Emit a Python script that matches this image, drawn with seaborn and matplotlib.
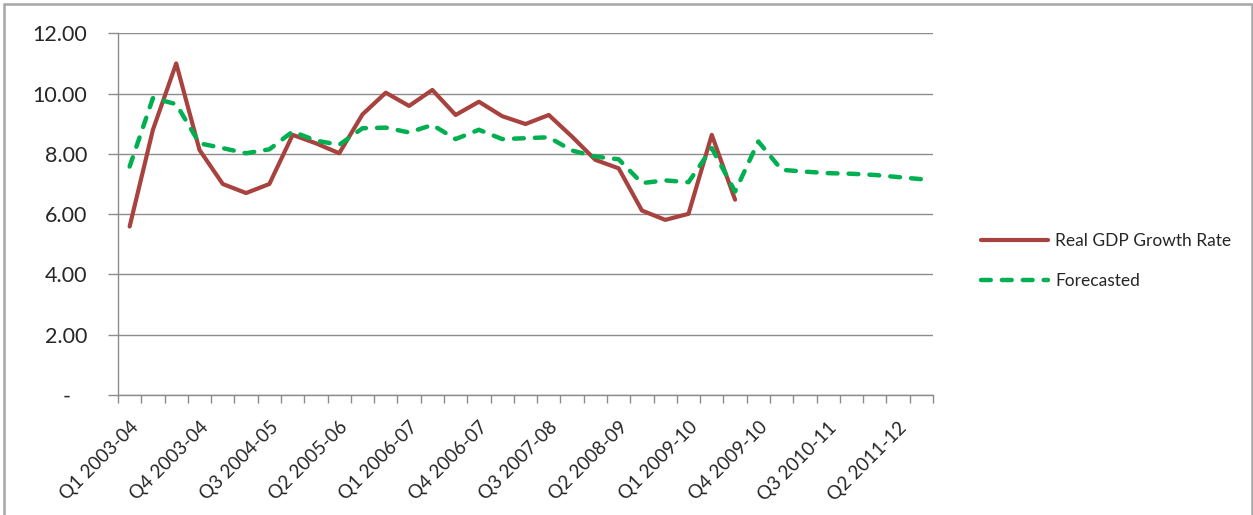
import numpy as np
import pandas as pd
import seaborn as sns
import matplotlib.pyplot as plt
from matplotlib.patches import Rectangle

# --- data ---
fiscal_years = ["2003-04", "2004-05", "2005-06", "2006-07", "2007-08",
                "2008-09", "2009-10", "2010-11", "2011-12"]
quarters = [f"Q{q} {fy}" for fy in fiscal_years for q in range(1, 5)][:35]

real_gdp = [5.59, 8.80, 11.00, 8.13, 7.00, 6.70, 7.00, 8.63, 8.35, 8.02,
            9.31, 10.03, 9.59, 10.12, 9.29, 9.73, 9.25, 8.99, 9.29, 8.57,
            7.80, 7.52, 6.12, 5.81, 6.01, 8.63, 6.48]

forecast = [7.58, 9.85, 9.65, 8.35, 8.19, 8.02, 8.15, 8.74, 8.44, 8.30,
            8.85, 8.87, 8.71, 8.96, 8.49, 8.80, 8.49, 8.52, 8.55, 8.11,
            7.91, 7.82, 7.03, 7.12, 7.06, 8.19, 6.75, 8.41, 7.47, 7.41,
            7.36, 7.34, 7.30, 7.23, 7.16]

df_real = pd.DataFrame({"pos": np.arange(len(real_gdp)), "value": real_gdp})
df_fc = pd.DataFrame({"pos": np.arange(len(forecast)), "value": forecast})

# --- style ---
sns.set_style("white")
plt.rcParams["font.family"] = ["Lato", "DejaVu Sans"]

fig = plt.figure(figsize=(12.53, 5.15), dpi=100)
ax = fig.add_axes([118 / 1253, 1 - 395 / 515, (933 - 118) / 1253, (395 - 33.3) / 515])

red = "#A8423F"
green = "#00B050"
grid_col = "#8C8C8C"

sns.lineplot(data=df_real, x="pos", y="value", ax=ax, color=red, linewidth=3.0,
             label="Real GDP Growth Rate")
sns.lineplot(data=df_fc, x="pos", y="value", ax=ax, color=green, linewidth=3.2,
             dashes=False, label="Forecasted")
fc_line = ax.get_lines()[1]
fc_line.set_dashes((2.2, 2.5))
fc_line.set_dash_capstyle("round")

ax.set_xlim(-0.5, len(quarters) - 0.5)
ax.set_ylim(0, 12)

# y axis
yt = [0, 2, 4, 6, 8, 10, 12]
ax.set_yticks(yt)
ax.set_yticklabels(["-   "] + [f"{v:.2f}" for v in yt[1:]], fontsize=15.5)
ax.yaxis.grid(True, color=grid_col, linewidth=1.0)
ax.tick_params(axis="y", length=7, width=1.0, color=grid_col, pad=15, direction="out", left=True)

# x axis: ticks between categories, labels every third quarter
ax.set_xticks(np.arange(-0.5, len(quarters), 1.0), minor=True)
ax.set_xticks(np.arange(0, len(quarters), 3))
ax.set_xticklabels([quarters[i] for i in range(0, len(quarters), 3)],
                   rotation=45, ha="right", rotation_mode="anchor", fontsize=13.5)
ax.tick_params(axis="x", which="major", length=0, pad=17)
ax.tick_params(axis="x", which="minor", length=6, width=1.0, color=grid_col, direction="out", bottom=True)
ax.set_xlabel("")
ax.set_ylabel("")

for side in ["top", "right"]:
    ax.spines[side].set_visible(False)
for side in ["left", "bottom"]:
    ax.spines[side].set_color(grid_col)
    ax.spines[side].set_linewidth(1.0)

# legend on the right
ax.get_legend().remove()
handles = ax.get_lines()[:2]
leg = fig.legend(handles, ["Real GDP Growth Rate", "Forecasted"],
                 loc="center left", bbox_to_anchor=(965 / 1253, 1 - 261 / 515),
                 frameon=False, fontsize=12.5, handlelength=3.9,
                 handletextpad=0.4, labelspacing=1.4)

# chart border
fig.patches.append(Rectangle((4 / 1253, -0.02), 1247.5 / 1253, 1.02 - 4.5 / 515,
                             transform=fig.transFigure, fill=False,
                             edgecolor="#A6A6A6", linewidth=1.8, clip_on=False))

fig.savefig("out.png", dpi=100)
